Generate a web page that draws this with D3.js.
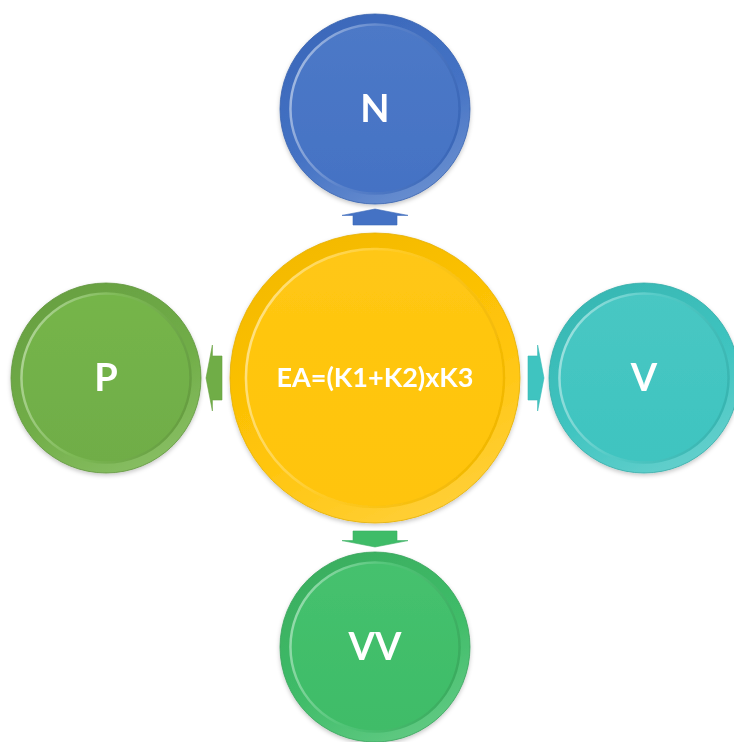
<!DOCTYPE html>
<html>
<head>
<meta charset="utf-8">
<script src="https://cdn.jsdelivr.net/npm/d3@7"></script>
<style>
  body { margin: 0; background: #fff; }
  text { font-family: Lato, "Open Sans", sans-serif; font-weight: 700; fill: #fff; }
</style>
</head>
<body>
<svg></svg>
<script>
const width = 734
const height = 742

// diagram content
const centerLabel = 'EA=(K1+K2)xK3'
const nodeLabels = ['N', 'V', 'VV', 'P']           // clockwise from the top
const nodeColors = ['#4472c4', '#3fc4c0', '#3fbc68', '#70ad47']
const centerColor = '#ffc408'

const cx = 375
const cy = 378
const orbit = 269
const bigR = 145
const smallR = 95

const svg = d3.select('svg').attr('width', width).attr('height', height)
const defs = svg.append('defs')

// index -> angle, starting at the top
const angle = d3.scaleLinear().domain([0, nodeLabels.length]).range([-Math.PI / 2, Math.PI * 1.5])

function makeGradients(id, color) {
  const c = d3.hsl(color)
  const rim = defs.append('linearGradient').attr('id', id + '-rim')
    .attr('x1', 0.25).attr('y1', 0).attr('x2', 0.75).attr('y2', 1)
  rim.append('stop').attr('offset', 0).attr('stop-color', c.darker(0.22))
  rim.append('stop').attr('offset', 0.55).attr('stop-color', color)
  rim.append('stop').attr('offset', 1).attr('stop-color', c.brighter(0.5))

  const face = defs.append('linearGradient').attr('id', id + '-face')
    .attr('x1', 0).attr('y1', 0).attr('x2', 0).attr('y2', 1)
  face.append('stop').attr('offset', 0).attr('stop-color', c.brighter(0.12))
  face.append('stop').attr('offset', 1).attr('stop-color', color)

  const edge = defs.append('linearGradient').attr('id', id + '-edge')
    .attr('x1', 0).attr('y1', 0.3).attr('x2', 1).attr('y2', 0.6)
  edge.append('stop').attr('offset', 0).attr('stop-color', c.brighter(1.1))
  edge.append('stop').attr('offset', 0.45).attr('stop-color', c.brighter(0.3))
  edge.append('stop').attr('offset', 1).attr('stop-color', c.darker(0.25))
}

function drawDisc(g, id, r, color, label, fontSize) {
  g.append('circle').attr('r', r).attr('fill', `url(#${id}-rim)`)
    .attr('stroke', d3.hsl(color).darker(0.4)).attr('stroke-width', 0.8)
  g.append('circle').attr('r', r * 0.89).attr('fill', `url(#${id}-face)`)
    .attr('stroke', `url(#${id}-edge)`).attr('stroke-width', 2.5)
  g.append('text').attr('text-anchor', 'middle').attr('dy', '0.35em')
    .style('font-size', fontSize + 'px').text(label)
}

// shadow
const shadow = defs.append('filter').attr('id', 'shadow')
  .attr('x', '-20%').attr('y', '-20%').attr('width', '140%').attr('height', '140%')
shadow.append('feDropShadow').attr('dx', 0).attr('dy', 2).attr('stdDeviation', 2)
  .attr('flood-color', '#000').attr('flood-opacity', 0.22)

// arrows (drawn pointing right, then rotated)
function arrowPath(len, shaft, head) {
  const h = len * 0.4
  return `M0,${-shaft / 2} L${len - h},${-shaft / 2} L${len - h},${-head / 2} L${len},0 L${len - h},${head / 2} L${len - h},${shaft / 2} L0,${shaft / 2} Z`
}

nodeLabels.forEach((label, i) => {
  const a = angle(i)
  const mid = bigR + 8
  const g = svg.append('g')
    .attr('transform', `translate(${cx + Math.cos(a) * mid},${cy + Math.sin(a) * mid}) rotate(${a * 180 / Math.PI})`)
  g.append('path').attr('d', arrowPath(16, 44, 66))
    .attr('fill', nodeColors[i])
    .attr('stroke', d3.hsl(nodeColors[i]).darker(0.2)).attr('stroke-width', 0.6)
})

// outer nodes
nodeLabels.forEach((label, i) => {
  const a = angle(i)
  const id = 'node' + i
  makeGradients(id, nodeColors[i])
  const g = svg.append('g').attr('filter', 'url(#shadow)')
    .attr('transform', `translate(${cx + Math.cos(a) * orbit},${cy + Math.sin(a) * orbit})`)
  drawDisc(g, id, smallR, nodeColors[i], label, 38)
})

// center
makeGradients('center', centerColor)
const cg = svg.append('g').attr('filter', 'url(#shadow)').attr('transform', `translate(${cx},${cy})`)
drawDisc(cg, 'center', bigR, centerColor, centerLabel, 27)
</script>
</body>
</html>
